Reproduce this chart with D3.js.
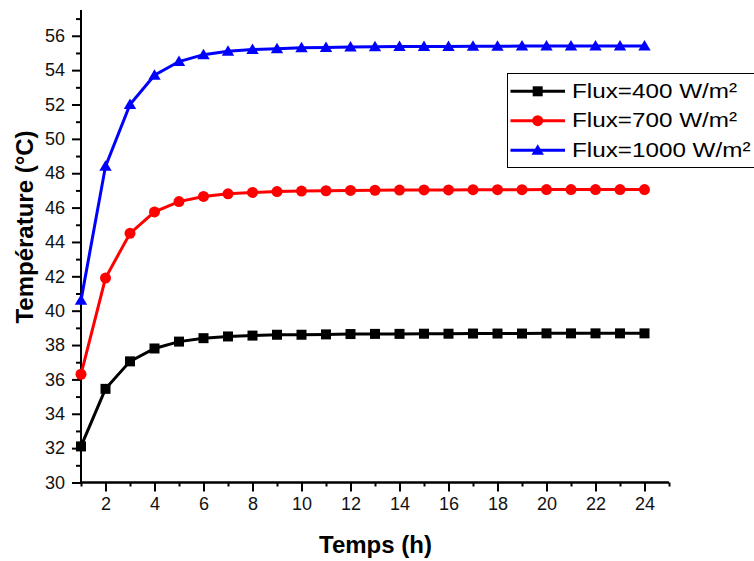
<!DOCTYPE html>
<html><head><meta charset="utf-8">
<script src="https://cdn.jsdelivr.net/npm/d3@7"></script>
<style>body{margin:0;background:#fff}svg{display:block}text{font-family:"Liberation Sans",Arial,sans-serif}</style>
</head><body><svg id="c" width="754" height="561"></svg>
<script>
const hours = d3.range(1, 25);
const flux400  = [32.1,35.45,37.05,37.8,38.2,38.4,38.5,38.55,38.6,38.6,38.62,38.64,38.65,38.65,38.66,38.66,38.67,38.67,38.67,38.68,38.68,38.68,38.68,38.68];
const flux700  = [36.3,41.9,44.5,45.75,46.35,46.65,46.8,46.88,46.93,46.96,46.98,47.0,47.01,47.02,47.03,47.03,47.04,47.04,47.04,47.05,47.05,47.05,47.05,47.05];
const flux1000 = [40.6,48.4,52.0,53.7,54.5,54.9,55.1,55.2,55.25,55.3,55.32,55.34,55.36,55.37,55.38,55.38,55.39,55.39,55.4,55.4,55.4,55.4,55.4,55.4];
const seriesNames = ["Flux=400 W/m\u00B2","Flux=700 W/m\u00B2","Flux=1000 W/m\u00B2"];
const seriesColors = ["#000000","#ff0000","#0000ff"];
const seriesShapes = ["square","circle","triangle"];
const xTickLabels = [2,4,6,8,10,12,14,16,18,20,22,24];
const yTickLabels = [30,32,34,36,38,40,42,44,46,48,50,52,54,56];
const xTitle = "Temps (h)";
const yTitle = "Température (°C)";

const svg = d3.select("#c");
const x = d3.scaleLinear().domain([1,25]).range([81,669]);
const y = d3.scaleLinear().domain([30,57.5]).range([482.5,10]);

// axes
const gx = svg.append("g").attr("transform","translate(0,482.5)")
  .call(d3.axisBottom(x).tickValues(d3.range(1,26,2)).tickSize(4).tickFormat(""));
const gx2 = svg.append("g").attr("transform","translate(0,482.5)")
  .call(d3.axisBottom(x).tickValues(xTickLabels).tickSize(9).tickPadding(6).tickFormat(d3.format("d")));
[gx,gx2].forEach(g=>{g.select(".domain").attr("stroke-width",2).attr("d","M81,0H669");g.selectAll(".tick line").attr("stroke-width",2);});
gx2.selectAll("text").attr("font-size",18).attr("fill","#111").attr("font-family","Liberation Sans, Arial");

const gy = svg.append("g").attr("transform","translate(81,0)")
  .call(d3.axisLeft(y).tickValues(d3.range(31,58,2)).tickSize(5).tickFormat(""));
const gy2 = svg.append("g").attr("transform","translate(81,0)")
  .call(d3.axisLeft(y).tickValues(yTickLabels).tickSize(9).tickPadding(7).tickFormat(d3.format("d")));
[gy,gy2].forEach(g=>{g.select(".domain").attr("stroke-width",2).attr("d","M0,482.5V10");g.selectAll(".tick line").attr("stroke-width",2);});
gy2.selectAll("text").attr("font-size",18).attr("fill","#111").attr("font-family","Liberation Sans, Arial");

// titles
svg.append("text").attr("x",375.5).attr("y",553).attr("text-anchor","middle")
  .attr("font-size",24).attr("font-weight","bold").text(xTitle);
svg.append("text").attr("transform","translate(33,227) rotate(-90)").attr("text-anchor","middle")
  .attr("font-size",24).attr("font-weight","bold").text(yTitle);

function marker(g, shape, color, s){
  if(shape==="square") g.append("rect").attr("x",-s/2).attr("y",-s/2).attr("width",s).attr("height",s).attr("fill",color);
  else if(shape==="circle") g.append("circle").attr("r",s/2+0.5).attr("fill",color);
  else g.append("path").attr("d",`M0,${-s*0.6}L${s*0.62},${s*0.45}L${-s*0.62},${s*0.45}Z`).attr("fill",color);
}

const allSeries = [flux400, flux700, flux1000];
const line = d3.line().x((d,i)=>x(hours[i])).y(d=>y(d));
allSeries.forEach((vals,k)=>{
  svg.append("path").attr("d",line(vals)).attr("fill","none").attr("stroke",seriesColors[k]).attr("stroke-width",3);
  vals.forEach((v,i)=>{
    const g = svg.append("g").attr("transform",`translate(${x(hours[i])},${y(v)})`);
    marker(g, seriesShapes[k], seriesColors[k], 10);
  });
});

// legend
const lg = svg.append("g");
lg.append("rect").attr("x",507.5).attr("y",73.5).attr("width",260).attr("height",94).attr("fill","#fff").attr("stroke","#000").attr("stroke-width",1);
const rowY = [91.3,120.7,150.3];
seriesNames.forEach((n,k)=>{
  lg.append("line").attr("x1",510.5).attr("x2",565).attr("y1",rowY[k]).attr("y2",rowY[k]).attr("stroke",seriesColors[k]).attr("stroke-width",3);
  const g = lg.append("g").attr("transform",`translate(537.7,${rowY[k]})`);
  marker(g, seriesShapes[k], seriesColors[k], 10);
  lg.append("text").attr("transform",`translate(572,${rowY[k]+6.5}) scale(1.155,1)`).attr("font-size",21).attr("fill","#000").text(n);
});
</script></body></html>
